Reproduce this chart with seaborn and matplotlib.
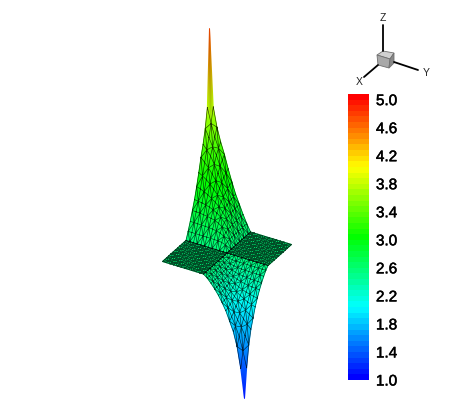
import numpy as np
import matplotlib
matplotlib.use("Agg")
import matplotlib.pyplot as plt
import matplotlib.patheffects as pe
from matplotlib.tri import Triangulation
import seaborn as sns

# Colour scale
ramp_colors = ["#0000ff", "#00ffff", "#00ff00", "#ffff00", "#ff0000"]
bar_levels = np.round(np.arange(5.0, 0.99, -0.08), 2)
tick_labels = ["5.0", "4.6", "4.2", "3.8", "3.4", "3.0", "2.6", "2.2", "1.8", "1.4", "1.0"]

# Values read along the outer edge of each raised quadrant (mid-edge -> tip)
flat_value = 2.5
upper_edge = [2.50, 2.58, 2.67, 2.77, 2.87, 2.97, 3.07, 3.18, 3.31, 3.48, 3.72, 5.00]
lower_edge = [2.50, 2.45, 2.38, 2.30, 2.21, 2.10, 1.98, 1.86, 1.74, 1.58, 1.34, 1.00]

# Height on screen for a value (view projection)
proj_value = [1.0, 1.38, 1.72, 1.98, 2.5, 2.9, 3.2, 3.72, 5.0]
proj_rise = [-112, -80, -50, -30, 0, 36, 72, 114, 191]

sns.set_theme(style="white")
plt.rcParams["font.family"] = ["Liberation Sans", "DejaVu Sans"]
cmap = sns.blend_palette(ramp_colors, as_cmap=True)

fig = plt.figure(figsize=(4.52, 4.02), dpi=100, facecolor="white")
ax = fig.add_axes([0, 0, 1, 1])
ax.set_xlim(0, 452)
ax.set_ylim(402, 0)
ax.axis("off")

# Surface table on a regular plan grid
n = len(upper_edge) - 1
idx = np.arange(-n, n + 1)
I, J = np.meshgrid(idx, idx, indexing="ij")
t_grid = np.arange(n + 1) / n


def quadrant(a, b, edge):
    ta, tb = a / n, b / n
    blend = (ta ** -2.0 + tb ** -2.0 - 1.0) ** -0.5
    return np.interp(blend, t_grid, edge)


Z = np.full(I.shape, flat_value, dtype=float)
mask_up = (I < 0) & (J > 0)
Z[mask_up] = quadrant(-I[mask_up], J[mask_up], upper_edge)
mask_lo = (I > 0) & (J < 0)
Z[mask_lo] = quadrant(I[mask_lo], -J[mask_lo], lower_edge)

u, v = I / n, J / n
sx = 227 + 41 * u + 23.5 * v
sy = 254 + 12.5 * u - 21 * v - np.interp(Z, proj_value, proj_rise)

size = 2 * n + 1
ids = np.arange(size * size).reshape(size, size)
tris, flat, tips = [], [], []
for a in range(2 * n):
    for b in range(2 * n):
        p, q, r, s = ids[a, b], ids[a + 1, b], ids[a + 1, b + 1], ids[a, b + 1]
        is_flat = (a < n) == (b < n)
        is_tip = (a, b) in ((0, 2 * n - 1), (2 * n - 1, 0))
        if (a + b) % 2 == 0:
            tris += [[p, q, r], [p, r, s]]
        else:
            tris += [[p, q, s], [q, r, s]]
        flat += [is_flat, is_flat]
        tips += [is_tip, is_tip]
flat = np.array(flat)
tips = np.array(tips)
tri = Triangulation(sx.ravel(), sy.ravel(), np.array(tris))
ax.tripcolor(tri, Z.ravel(), shading="gouraud", cmap=cmap, vmin=1, vmax=5)
tri_raised = Triangulation(sx.ravel(), sy.ravel(), np.array(tris), mask=flat | tips)
tri_flat = Triangulation(sx.ravel(), sy.ravel(), np.array(tris), mask=~flat)
ax.triplot(tri_raised, color="black", lw=0.45, alpha=0.75)
ax.triplot(tri_flat, color="black", lw=0.7, alpha=0.7)

# Orientation triad
ax.plot([383, 383], [26, 52], color="black", lw=1.3)
ax.plot([378, 364], [66, 78], color="black", lw=1.3)
ax.plot([394, 418], [63, 71], color="black", lw=1.3)
ax.fill([377, 383, 394, 390], [56, 52, 54, 60], color="#d0d0d0", ec="#707070", lw=0.6)
ax.fill([377, 390, 389, 378], [56, 60, 69, 66], color="#a8a8a8", ec="#707070", lw=0.6)
ax.fill([390, 394, 394, 389], [60, 54, 64, 69], color="#888888", ec="#707070", lw=0.6)
for label, x, y in [("Z", 383, 18), ("X", 359, 82), ("Y", 426, 73)]:
    ax.text(x, y, label, fontsize=7.5, ha="center", va="center", color="#222222")

# Colour bar drawn as a one-column heatmap
cax = fig.add_axes([348 / 452, 1 - 381 / 402, 21 / 452, 286 / 402])
sns.heatmap(np.array(bar_levels).reshape(-1, 1), ax=cax, cmap=cmap, vmin=1, vmax=5,
            cbar=False, xticklabels=False, yticklabels=False)
cax.yaxis.tick_right()
cax.set_yticks(np.arange(len(tick_labels)) * 5 + 1)
cax.set_yticklabels(tick_labels, rotation=0, fontsize=11, color="black")
for t in cax.get_yticklabels():
    t.set_path_effects([pe.withStroke(linewidth=0.35, foreground="black")])
cax.tick_params(axis="y", length=0, pad=5)

fig.savefig("out.png", dpi=100)
